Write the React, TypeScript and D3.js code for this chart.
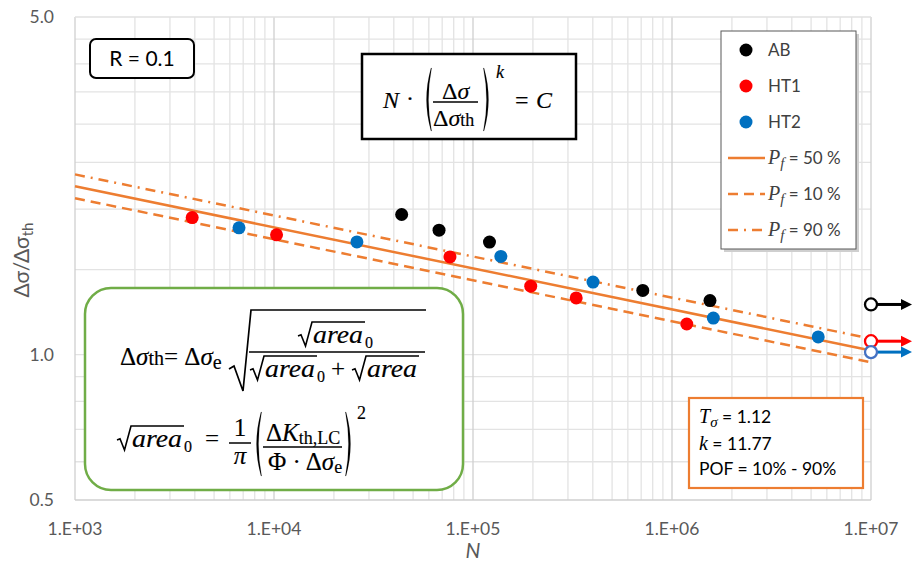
import React from "react";
import * as d3 from "d3";

const W = 912;
const H = 568;

// run data (N, Δσ/Δσth)
const abN = [43800, 67500, 121000, 713000, 1552000];
const abS = [1.95, 1.81, 1.71, 1.358, 1.294];
const ht1N = [3880, 10300, 76600, 195000, 330000, 1186000];
const ht1S = [1.922, 1.77, 1.593, 1.386, 1.31, 1.157];
const ht2N = [6670, 26100, 138000, 401000, 1613000, 5430000];
const ht2S = [1.83, 1.711, 1.597, 1.413, 1.19, 1.088];
// run-outs at 1e7 cycles: AB, HT1, HT2
const runoutS = [1.27, 1.066, 1.012];
const runoutN = 1e7;

// fitted lines (endpoints in log-log)
const lineN = [1e3, 1e7];
const p50 = [2.231, 1.02];
const p10 = [2.108, 0.964];
const p90 = [2.361, 1.079];

const xTicks = [1e3, 1e4, 1e5, 1e6, 1e7];
const xTickLabels = ["1.E+03", "1.E+04", "1.E+05", "1.E+06", "1.E+07"];
const yTicks = [0.5, 1, 5];
const yTickLabels = ["0.5", "1.0", "5.0"];
const yGrid = [0.6, 0.7, 0.8, 0.9, 1, 1.5, 2, 2.5, 3, 3.5, 4, 4.5];

const ORANGE = "#ED7D31";
const BLACK = "#000000";
const RED = "#FF0000";
const BLUE = "#0070C0";
const SANS = "Lato, 'Open Sans', sans-serif";
const SERIF = "'Liberation Serif', 'DejaVu Serif', serif";

const x = d3.scaleLog().domain([1e3, 1e7]).range([75, 871]);
const y = d3.scaleLog().domain([0.5, 5]).range([500, 17]);

const line = d3
  .line<number>()
  .x((_, i) => x(lineN[i]))
  .y((d) => y(d));

// parenthesis drawn as a filled crescent
const Paren = ({ x0, y0, y1, dir }: { x0: number; y0: number; y1: number; dir: number }) => {
  const m = (y0 + y1) / 2;
  const b = 9 * dir;
  const d = `M${x0},${y0} Q${x0 - b},${m} ${x0},${y1} L${x0 + 0.6 * dir},${y1} Q${x0 - b + 3.4 * dir},${m} ${x0 + 0.6 * dir},${y0} Z`;
  return <path d={d} fill="#000" />;
};

// radical with overline
const Radical = ({ x0, top, bottom, w }: { x0: number; top: number; bottom: number; w: number }) => {
  const h = bottom - top;
  const d = `M${x0},${bottom - 0.42 * h} L${x0 + 3},${bottom - 0.47 * h} L${x0 + 7.5},${bottom} L${x0 + 14},${top} L${x0 + 14 + w},${top}`;
  return <path d={d} fill="none" stroke="#000" strokeWidth={1.6} />;
};

const SqrtArea = ({ x0, base, sub }: { x0: number; base: number; sub: boolean }) => (
  <g>
    <Radical x0={x0} top={base - 21} bottom={base + 3} w={53} />
    <text x={x0 + 15} y={base} fontFamily={SERIF} fontStyle="italic" fontSize={26} textLength={50} lengthAdjust="spacingAndGlyphs">
      area
    </text>
    {sub && (
      <text x={x0 + 67} y={base + 5} fontFamily={SERIF} fontSize={16}>
        0
      </text>
    )}
  </g>
);

const App = () => {
  const minor: number[] = [];
  for (let d = 1e3; d < 1e7; d *= 10) for (let m = 2; m <= 9; m++) minor.push(d * m);

  const series = [
    { n: abN, s: abS, c: BLACK },
    { n: ht1N, s: ht1S, c: RED },
    { n: ht2N, s: ht2S, c: BLUE },
  ];
  const runColors = [BLACK, RED, BLUE];
  const runStroke = [BLACK, RED, "#4472C4"];

  const legendItems = [
    { label: "AB", kind: "dot", c: BLACK },
    { label: "HT1", kind: "dot", c: RED },
    { label: "HT2", kind: "dot", c: BLUE },
    { label: "50 %", kind: "line", dash: "" },
    { label: "10 %", kind: "line", dash: "10,6" },
    { label: "90 %", kind: "line", dash: "10,6,2,6" },
  ];
  const legendY = [56, 92, 128, 164, 200, 236];

  return (
    <svg width={W} height={H} style={{ position: "absolute", left: 0, top: 0, background: "#fff" }}>
      {/* gridlines */}
      <g>
        {minor.map((v) => (
          <line key={"mx" + v} x1={x(v)} x2={x(v)} y1={17} y2={500} stroke="#e3e3e3" strokeWidth={1.3} />
        ))}
        {yGrid.map((v) => (
          <line key={"gy" + v} x1={75} x2={871} y1={y(v)} y2={y(v)} stroke="#e3e3e3" strokeWidth={1.3} />
        ))}
        {xTicks.map((v) => (
          <line key={"Mx" + v} x1={x(v)} x2={x(v)} y1={17} y2={500} stroke="#cfcfcf" strokeWidth={1.3} />
        ))}
        <line x1={75} x2={871} y1={17} y2={17} stroke="#e0e0e0" strokeWidth={1.3} />
        <line x1={75} x2={871} y1={500} y2={500} stroke="#cfcfcf" strokeWidth={1.3} />
      </g>

      {/* tick labels */}
      <g fontFamily={SANS} fontSize={17.5} fill="#595959">
        {yTicks.map((v, i) => (
          <text key={"yt" + v} x={54} y={y(v) + 6} textAnchor="end">
            {yTickLabels[i]}
          </text>
        ))}
        {xTicks.map((v, i) => (
          <text key={"xt" + v} x={x(v)} y={535} textAnchor="middle">
            {xTickLabels[i]}
          </text>
        ))}
      </g>
      <text x={473} y={558} textAnchor="middle" fontFamily={SANS} fontStyle="italic" fontSize={21} fill="#595959">
        N
      </text>
      <text transform="translate(29,260) rotate(-90)" textAnchor="middle" fontFamily={SANS} fontSize={21} fill="#595959">
        Δσ/Δσ<tspan fontSize={15} dy={4}>th</tspan>
      </text>

      {/* R box */}
      <rect x={90} y={39} width={104} height={39} rx={6} fill="#fff" stroke="#000" strokeWidth={2} />
      <text x={142} y={66} textAnchor="middle" fontFamily={SANS} fontSize={21}>
        R = 0.1
      </text>

      {/* Basquin box */}
      <rect x={362} y={54} width={214} height={85} fill="#fff" stroke="#000" strokeWidth={2.5} />
      <g fontFamily={SERIF} fontSize={24} stroke="#000" strokeWidth={0.15}>
        <text x={383} y={108} fontStyle="italic">N</text>
        <text x={406} y={106}>·</text>
        <Paren x0={431} y0={68} y1={131} dir={1} />
        <text x={442} y={99}>
          Δ<tspan fontStyle="italic">σ</tspan>
        </text>
        <line x1={433} x2={478} y1={102} y2={102} stroke="#000" strokeWidth={1.5} />
        <text x={433} y={126}>
          Δ<tspan fontStyle="italic">σ</tspan>
          <tspan fontSize={18}>th</tspan>
        </text>
        <Paren x0={484} y0={68} y1={131} dir={-1} />
        <text x={496} y={78} fontStyle="italic" fontSize={18}>k</text>
        <text x={515} y={108}>=</text>
        <text x={536} y={108} fontStyle="italic">C</text>
      </g>

      {/* fit lines */}
      <path d={line(p90) || ""} fill="none" stroke={ORANGE} strokeWidth={2.5} strokeDasharray="10,6,2,6" />
      <path d={line(p10) || ""} fill="none" stroke={ORANGE} strokeWidth={2.5} strokeDasharray="10,6" />
      <path d={line(p50) || ""} fill="none" stroke={ORANGE} strokeWidth={2.5} />

      {/* points */}
      {series.map((sr, j) => (
        <g key={"s" + j}>
          {sr.n.map((n, i) => (
            <circle key={i} cx={x(n)} cy={y(sr.s[i])} r={6.5} fill={sr.c} />
          ))}
        </g>
      ))}

      {/* run-outs */}
      {runoutS.map((s, i) => (
        <g key={"r" + i}>
          <line x1={x(runoutN) + 6} x2={903} y1={y(s)} y2={y(s)} stroke={runColors[i]} strokeWidth={3} />
          <path d={`M901,${y(s) - 5.5} L912,${y(s)} L901,${y(s) + 5.5} Z`} fill={runColors[i]} />
          <circle cx={x(runoutN)} cy={y(s)} r={6} fill="#fff" stroke={runStroke[i]} strokeWidth={2.3} />
        </g>
      ))}

      {/* green box */}
      <rect x={85} y={288} width={378} height={202} rx={26} fill="#fff" stroke="#70AD47" strokeWidth={2.5} />
      <g fontFamily={SERIF} fontSize={25} stroke="#000" strokeWidth={0.15}>
        <text x={120} y={365}>
          Δ<tspan fontStyle="italic">σ</tspan>
          <tspan fontSize={20}>th</tspan>
          <tspan>= Δ</tspan>
          <tspan fontStyle="italic">σ</tspan>
          <tspan fontSize={20} dy={4}>e</tspan>
        </text>
        <path d="M229,369 L234,366 L243,391 L251,310 L426,310" fill="none" stroke="#000" strokeWidth={1.7} />
        <SqrtArea x0={298} base={343} sub={true} />
        <line x1={249} x2={425} y1={352} y2={352} stroke="#000" strokeWidth={1.5} />
        <SqrtArea x0={250} base={377} sub={true} />
        <text x={331} y={377}>+</text>
        <SqrtArea x0={352} base={377} sub={false} />

        <SqrtArea x0={117} base={447} sub={true} />
        <text x={205} y={447}>=</text>
        <text x={240} y={436} textAnchor="middle">1</text>
        <line x1={229} x2={251} y1={443} y2={443} stroke="#000" strokeWidth={1.5} />
        <text x={240} y={464} textAnchor="middle" fontStyle="italic">π</text>
        <Paren x0={261} y0={412} y1={476} dir={1} />
        <text x={266} y={441}>
          Δ<tspan fontStyle="italic">K</tspan>
          <tspan fontSize={18} dy={3}>th,LC</tspan>
        </text>
        <line x1={263} x2={342} y1={447} y2={447} stroke="#000" strokeWidth={1.5} />
        <text x={268} y={470}>
          Φ · Δ<tspan fontStyle="italic">σ</tspan>
          <tspan fontSize={18} dy={3}>e</tspan>
        </text>
        <Paren x0={346} y0={412} y1={476} dir={-1} />
        <text x={357} y={419} fontSize={18}>2</text>
      </g>

      {/* T sigma box */}
      <rect x={689} y={398} width={174} height={90} fill="#fff" stroke={ORANGE} strokeWidth={2.2} />
      <g fontFamily={SANS} fontSize={17.5} fill="#000">
        <text x={699} y={423}>
          <tspan fontFamily={SERIF} fontStyle="italic" fontSize={20}>T</tspan>
          <tspan fontFamily={SERIF} fontStyle="italic" fontSize={15} dy={4}>σ</tspan>
          <tspan dy={-4}> = 1.12</tspan>
        </text>
        <text x={699} y={450}>
          <tspan fontFamily={SERIF} fontStyle="italic" fontSize={20}>k</tspan> = 11.77
        </text>
        <text x={699} y={475}>POF = 10% - 90%</text>
      </g>

      {/* legend */}
      <rect x={724} y={34} width={135} height={218} fill="#cfcfcf" />
      <rect x={721} y={31} width={135} height={218} fill="#fff" stroke="#595959" strokeWidth={1} />
      {legendItems.map((it, i) => (
        <g key={"l" + i}>
          {it.kind === "dot" ? (
            <>
              <circle cx={746} cy={legendY[i] - 6} r={6.5} fill={it.c} />
              <text x={768} y={legendY[i]} fontFamily={SANS} fontSize={17} fill="#404040">
                {it.label}
              </text>
            </>
          ) : (
            <>
              <line x1={728} x2={765} y1={legendY[i] - 6} y2={legendY[i] - 6} stroke={ORANGE} strokeWidth={2.5} strokeDasharray={it.dash} />
              <text x={768} y={legendY[i]} fill="#404040">
                <tspan fontFamily={SERIF} fontStyle="italic" fontSize={20}>P</tspan>
                <tspan fontFamily={SERIF} fontStyle="italic" fontSize={15} dy={4}>f</tspan>
                <tspan fontFamily={SANS} fontSize={17} dy={-4}> = {it.label}</tspan>
              </text>
            </>
          )}
        </g>
      ))}
    </svg>
  );
};

export default App;
